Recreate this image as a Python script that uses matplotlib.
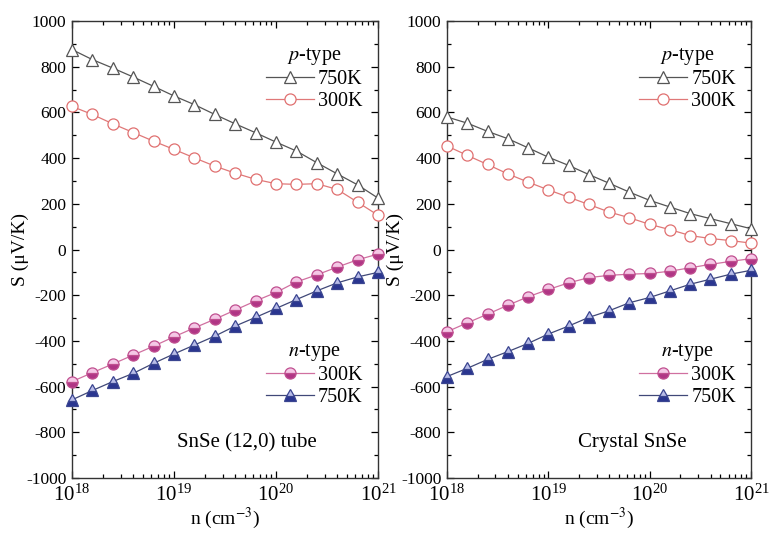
import matplotlib
matplotlib.use("Agg")
import matplotlib.pyplot as plt
from matplotlib.lines import Line2D
from matplotlib.ticker import LogLocator, MultipleLocator, LogFormatterMathtext, NullFormatter
import numpy as np

plt.rcParams['font.family'] = ['Liberation Serif', 'DejaVu Serif']
plt.rcParams['mathtext.fontset'] = 'stix'
plt.rcParams['axes.unicode_minus'] = False

# log10 of carrier concentration (cm^-3)
log_n = [18.0, 18.2, 18.4, 18.6, 18.8, 19.0, 19.2, 19.4, 19.6, 19.8,
         20.0, 20.2, 20.4, 20.6, 20.8, 21.0]

tube_p750 = [875, 831, 794, 755, 714, 672, 634, 591, 550, 511, 470, 431, 380, 331, 283, 225]
tube_p300 = [626, 591, 550, 512, 474, 438, 401, 365, 334, 307, 288, 285, 288, 263, 207, 150]
tube_n300 = [-578, -539, -501, -462, -423, -382, -343, -305, -265, -225, -188, -142, -111, -77, -45, -20]
tube_n750 = [-658, -617, -578, -542, -498, -457, -418, -379, -335, -297, -258, -219, -181, -146, -120, -100]

cryst_p750 = [580, 553, 517, 485, 445, 404, 368, 328, 290, 251, 215, 186, 157, 135, 113, 91]
cryst_p300 = [453, 412, 372, 331, 295, 261, 229, 197, 164, 139, 110, 87, 61, 48, 39, 28]
cryst_n300 = [-360, -321, -283, -244, -207, -175, -146, -123, -113, -108, -105, -95, -80, -65, -52, -40]
cryst_n750 = [-556, -520, -481, -447, -411, -370, -335, -297, -268, -233, -210, -181, -152, -130, -108, -91]

panels = [
    ("SnSe (12,0) tube", 0.57, tube_p750, tube_p300, tube_n300, tube_n750),
    ("Crystal SnSe", 0.61, cryst_p750, cryst_p300, cryst_n300, cryst_n750),
]

n_vals = [10.0 ** v for v in log_n]

fig = plt.figure(figsize=(7.69, 5.34), dpi=100)
axes_rects = [
    [72 / 769, 1 - 478 / 534, 306 / 769, 457 / 534],
    [447 / 769, 1 - 478 / 534, 304 / 769, 457 / 534],
]

styles = {
    'p750': dict(color='#555555', marker='^', mfc='white', mec='#555555', ms=8.5, lw=0.9, mew=0.9),
    'p300': dict(color='#e07878', marker='o', mfc='white', mec='#e07070', ms=8, lw=0.9, mew=0.9),
    'n300': dict(color='#d070a0', marker='o', mfc='#b03585', mfcalt='#f5c8e6', fillstyle='bottom',
                 mec='#c05090', ms=8, lw=0.9, mew=0.9),
    'n750': dict(color='#404878', marker='^', mfc='#2a3590', mfcalt='#b8bce8', fillstyle='bottom',
                 mec='#3a4590', ms=8.5, lw=0.9, mew=0.9),
}

def mk(key):
    s = dict(styles[key])
    alt = s.pop('mfcalt', None)
    kw = dict(color=s['color'], marker=s['marker'], markerfacecolor=s['mfc'],
              markeredgecolor=s['mec'], markersize=s['ms'], linewidth=s['lw'],
              markeredgewidth=s['mew'])
    if alt is not None:
        kw['markerfacecoloralt'] = alt
        kw['fillstyle'] = s['fillstyle']
    return kw

for rect, (label, lx, p750, p300, n300, n750) in zip(axes_rects, panels):
    ax = fig.add_axes(rect)
    ax.plot(n_vals, p750, clip_on=False, zorder=3, **mk('p750'))
    ax.plot(n_vals, p300, clip_on=False, zorder=3, **mk('p300'))
    ax.plot(n_vals, n300, clip_on=False, zorder=3, **mk('n300'))
    ax.plot(n_vals, n750, clip_on=False, zorder=3, **mk('n750'))

    ax.set_xscale('log')
    ax.set_xlim(1e18, 1e21)
    ax.set_ylim(-1000, 1000)
    ax.xaxis.set_major_locator(LogLocator(base=10, numticks=10))
    ax.xaxis.set_minor_locator(LogLocator(base=10, subs=np.arange(2, 10), numticks=20))
    ax.xaxis.set_major_formatter(LogFormatterMathtext())
    ax.xaxis.set_minor_formatter(NullFormatter())
    ax.yaxis.set_major_locator(MultipleLocator(200))
    ax.yaxis.set_minor_locator(MultipleLocator(100))
    ax.tick_params(which='both', direction='in', top=True, right=True, width=0.9)
    ax.tick_params(which='major', length=5)
    ax.tick_params(which='minor', length=3)
    ax.tick_params(axis='y', labelsize=12.5, pad=4)
    ax.tick_params(axis='x', labelsize=15, pad=5)
    for sp in ax.spines.values():
        sp.set_linewidth(1.0)
        sp.set_color('#333333')

    ax.set_xlabel('n (cm$^{-3}$)', fontsize=14, labelpad=0)
    ax.set_ylabel('S (\u03bcV/K)', fontsize=14, labelpad=-2)

    h1 = Line2D([], [], **mk('p750'))
    h2 = Line2D([], [], **mk('p300'))
    leg1 = ax.legend([h1, h2], ['750K', '300K'], title=r'$p$-type', loc='upper right',
                     bbox_to_anchor=(0.95, 0.945), frameon=False, fontsize=14.5,
                     title_fontsize=14.5, handlelength=2.4, handletextpad=0.2,
                     labelspacing=0.15, borderaxespad=0, borderpad=0)
    ax.add_artist(leg1)
    h3 = Line2D([], [], **mk('n300'))
    h4 = Line2D([], [], **mk('n750'))
    ax.legend([h3, h4], ['300K', '750K'], title=r'$n$-type', loc='lower right',
              bbox_to_anchor=(0.95, 0.155), frameon=False, fontsize=14.5,
              title_fontsize=14.5, handlelength=2.4, handletextpad=0.2,
              labelspacing=0.15, borderaxespad=0, borderpad=0)

    ax.text(lx, 0.077, label, transform=ax.transAxes, ha='center', va='center', fontsize=15)

fig.savefig('out.png', dpi=100)
